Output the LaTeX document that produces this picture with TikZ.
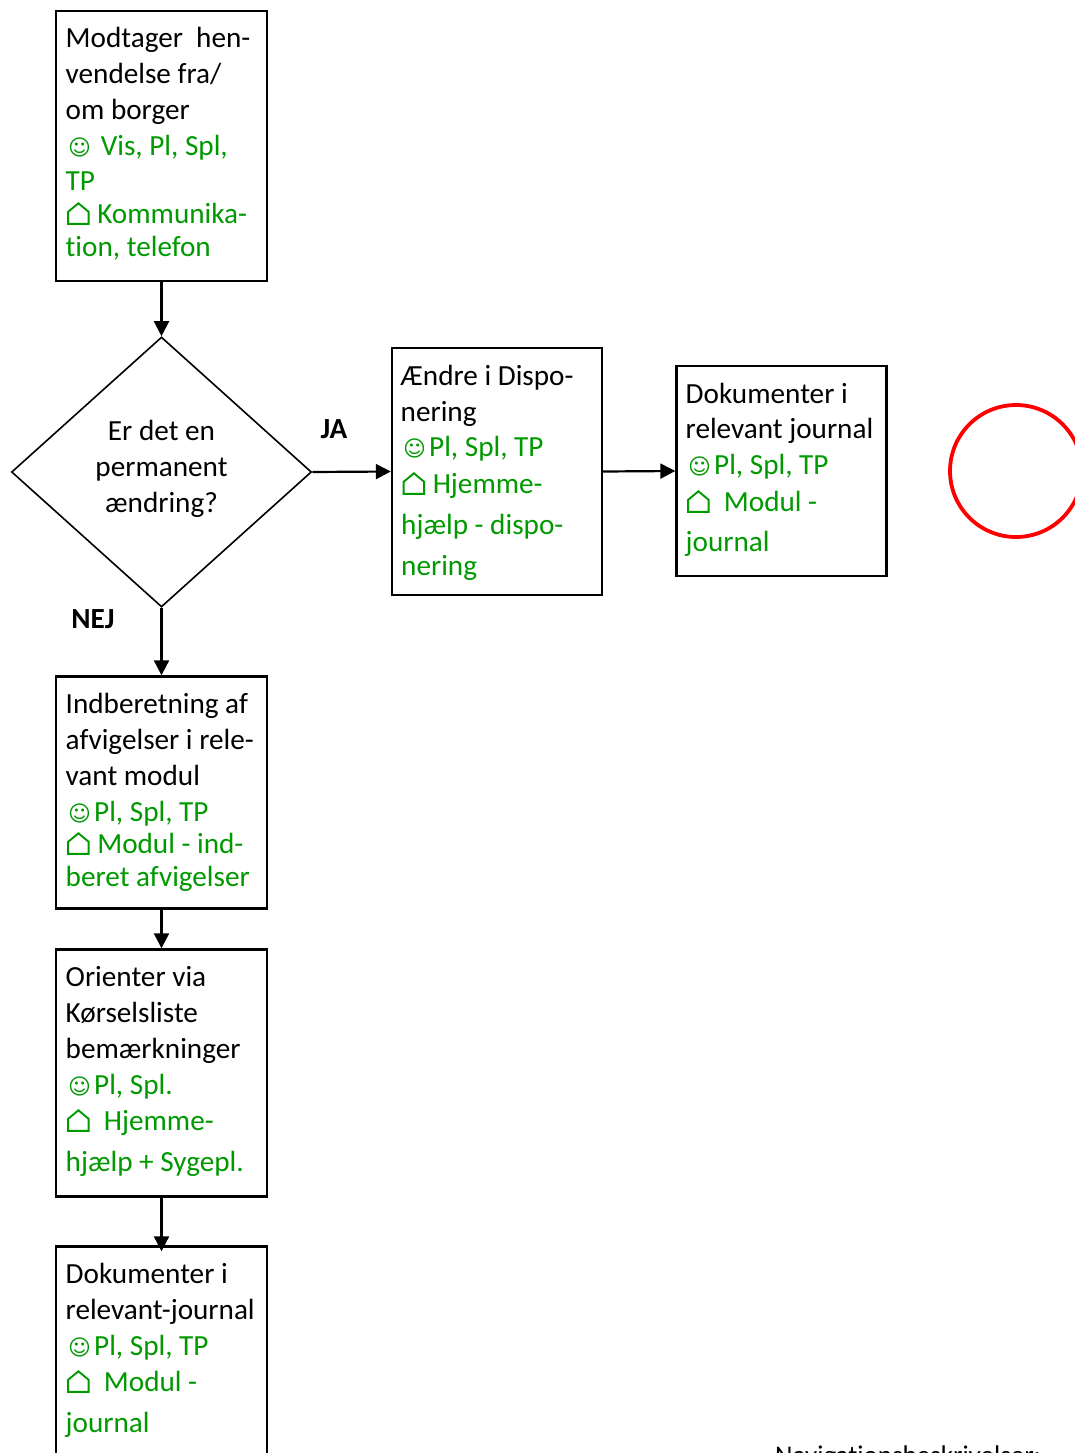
\documentclass[tikz,border=0pt]{standalone}
\usepackage{fontspec}
\setmainfont{Carlito}[Ligatures=NoCommon]
\newfontfamily\symf{DejaVu Sans}
\usetikzlibrary{arrows.meta,shapes.geometric}
\definecolor{grn}{RGB}{0,153,0}
\newcommand{\smy}{\makebox[26pt][l]{\symf\fontsize{22}{22}\selectfont ☺}}
\newcommand{\hus}{\makebox[25pt][l]{\kern1.5pt\tikz[baseline=0pt,x=1pt,y=1pt]\draw[draw=grn,line width=1.9pt,line join=miter] (0,0) -- (20.5,0) -- (20.5,12) -- (10.25,20.5) -- (0,12) -- cycle;}}
\tikzset{
 x=1pt,y=-1pt,
 boxs/.style={draw=black,line width=2.4pt,fill=none},
 blk/.style={inner sep=0pt,anchor=base west,yshift=-0.8pt,font=\fontsize{29.2}{30}\selectfont,text=black},
 gr/.style={blk,text=grn},
 lab/.style={inner sep=0pt,anchor=base,yshift=-0.8pt,font=\fontsize{29.2}{30}\selectfont\bfseries},
 ctr/.style={inner sep=0pt,anchor=base,yshift=-0.8pt,font=\fontsize{29.2}{30}\selectfont},
 arr/.style={line width=2.2pt,-{Triangle[length=15pt,width=15pt]}},
}
\begin{document}
\begin{tikzpicture}
\useasboundingbox (0,0) rectangle (1075,1453);
% shapes
\node[draw=black,line width=1.6pt,diamond,minimum width=300pt,minimum height=270pt,inner sep=0pt,shape aspect=1.11] (d) at (161.5,472) {};
\node[boxs,minimum width=210pt,minimum height=247pt,inner sep=0pt] (b) at (497,471.5) {};
\node[boxs,minimum width=210pt,minimum height=210pt,inner sep=0pt] (c) at (781.5,471) {};
\node[boxs,minimum width=211pt,minimum height=270pt,inner sep=0pt] (a2) at (161.5,146) {};
\node[boxs,minimum width=211pt,minimum height=232pt,inner sep=0pt] (e) at (161.5,792.5) {};
\node[boxs,minimum width=211pt,minimum height=247pt,inner sep=0pt] (f) at (161.5,1073) {};
\node[boxs,minimum width=211pt,minimum height=260pt,inner sep=0pt] (g) at (161.5,1376.5) {};
\node[draw=red,line width=3.8pt,circle,minimum size=132pt,inner sep=0pt] (r) at (1016,471) {};
% connectors
\draw[arr] (a2.south) -- (d.north);
\draw[arr] (d.east) -- (b.west);
\draw[arr] (b.east) -- (c.west);
\draw[arr] (d.south) -- (e.north);
\draw[arr] (e.south) -- (f.north);
\draw[arr,shorten >=-6pt] (f.south) -- (g.north);
% box a
\node[blk] (a1) at (65.5,47) {Modtager\ \ hen-};
\node[blk] (a3) at (65.5,83) {vendelse fra/};
\node[blk] (a4) at (65.5,119) {om borger};
\node[gr] (a5) at (68,155) {\smy\ Vis, Pl, Spl,};
\node[gr] (a6) at (65.5,190) {TP};
\node[gr] (a7) at (65.5,223) {\hus\ Kommunika-};
\node[gr] (a8) at (65.5,256) {tion, telefon};
% diamond
\node[ctr] (d1) at (161.5,440) {Er det en};
\node[ctr] (d2) at (161.5,476) {permanent};
\node[ctr] (d3) at (161.5,512) {ændring?};
\node[lab] (ja) at (334,438) {JA};
\node[lab] (nej) at (93,628) {NEJ};
% box b
\node[blk] (b1) at (400.5,385) {Ændre i Dispo-};
\node[blk] (b2) at (400.5,421) {nering};
\node[gr] (b3) at (403,456) {\smy Pl, Spl, TP};
\node[gr] (b4) at (401,493) {\hus\ Hjemme-};
\node[gr] (b5) at (401,534) {hjælp - dispo-};
\node[gr] (b6) at (401,575) {nering};
% box c
\node[blk] (c1) at (685.5,403) {Dokumenter i};
\node[blk] (c2) at (685.5,438) {relevant journal};
\node[gr] (c3) at (688,474) {\smy Pl, Spl, TP};
\node[gr] (c4) at (685.5,511) {\hus\ \ Modul -};
\node[gr] (c5) at (685.5,551) {journal};
% box e
\node[blk] (e1) at (65.5,713) {Indberetning af};
\node[blk] (e2) at (65.5,749) {afvigelser i rele-};
\node[blk] (e3) at (65.5,785) {vant modul};
\node[gr] (e4) at (68,821) {\smy Pl, Spl, TP};
\node[gr] (e5) at (65.5,853) {\hus\ Modul - ind-};
\node[gr] (e6) at (65.5,886) {beret afvigelser};
% box f
\node[blk] (f1) at (65.5,986) {Orienter via};
\node[blk] (f2) at (65.5,1022) {Kørselsliste};
\node[blk] (f3) at (65.5,1058) {bemærkninger};
\node[gr] (f4) at (68,1094) {\smy Pl, Spl.};
\node[gr] (f5) at (65.5,1130) {\hus\ \ Hjemme-};
\node[gr] (f6) at (65.5,1171) {hjælp + Sygepl.};
% box g
\node[blk] (g1) at (65.5,1283) {Dokumenter i};
\node[blk] (g2) at (65.5,1319) {relevant-journal};
\node[gr] (g3) at (68,1355) {\smy Pl, Spl, TP};
\node[gr] (g4) at (65.5,1391) {\hus\ \ Modul -};
\node[gr] (g5) at (65.5,1432) {journal};
% clipped caption
\node[blk,font=\fontsize{27}{28}\selectfont] (n) at (775,1463.5) {Navigationsbeskrivelser:};
\end{tikzpicture}
\end{document}
